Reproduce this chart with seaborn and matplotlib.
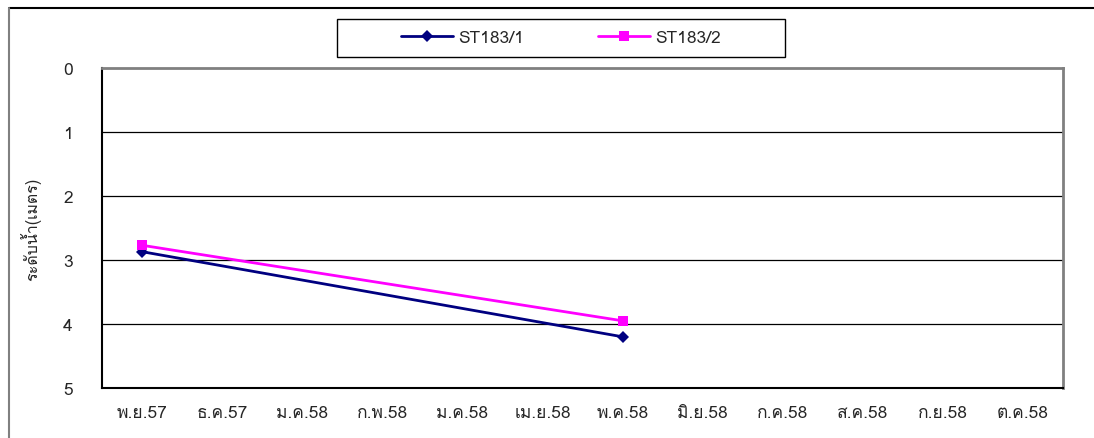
import matplotlib
matplotlib.use("Agg")
import matplotlib.pyplot as plt
import matplotlib.font_manager as fm
from matplotlib.ft2font import FT2Font
from matplotlib.lines import Line2D
from matplotlib.patches import Rectangle
from matplotlib.ticker import FixedLocator, NullFormatter
import pandas as pd
import seaborn as sns

# ---- data ----
months = ["พ.ย.57", "ธ.ค.57", "ม.ค.58", "ก.พ.58", "ม.ค.58", "เม.ย.58",
          "พ.ค.58", "มิ.ย.58", "ก.ค.58", "ส.ค.58", "ก.ย.58", "ต.ค.58"]
obs_idx = [0, 6]  # months with readings (พ.ย.57, พ.ค.58)
st183_1 = [2.87, 4.20]
st183_2 = [2.77, 3.95]
series_names = ["ST183/1", "ST183/2"]
y_label = "ระดับน้ำ(เมตร)"

# ---- find a font that can draw Thai ----
def thai_font():
    best = None
    for f in fm.fontManager.ttflist:
        try:
            ft = FT2Font(f.fname)
            if ft.get_char_index(ord("ร")) and ft.get_char_index(ord("5")):
                if "Thai" in f.name or "Loma" in f.name or "Tahoma" in f.name:
                    return f.name
                if best is None:
                    best = f.name
        except Exception:
            pass
    return best

sns.set_style("white")
tf = thai_font()
plt.rcParams["font.family"] = ([tf] if tf else []) + ["DejaVu Sans"]

df = pd.DataFrame({
    "x": obs_idx * 2,
    "level": st183_1 + st183_2,
    "well": [series_names[0]] * 2 + [series_names[1]] * 2,
})

colors = ["#000080", "#FF00FF"]
marks = ["D", "s"]
msizes = [6.5, 7.5]

fig = plt.figure(figsize=(10.94, 4.39), dpi=100)
ax = fig.add_axes([102 / 1094, 50 / 439, 961 / 1094, 320 / 439])

sns.lineplot(data=df, x="x", y="level", hue="well", style="well",
             palette=colors, markers=marks, dashes=False,
             markersize=7, linewidth=2, markeredgewidth=0, ax=ax, legend=False)
for ln, ms in zip(ax.lines, msizes):
    ln.set_markersize(ms)

ax.set_xlim(-0.5, len(months) - 0.5)
ax.set_ylim(5, 0)
ax.set_yticks(range(0, 6))
ax.set_yticklabels([str(i) for i in range(0, 6)], fontsize=12.5)
ax.set_xticks(range(len(months)))
ax.set_xticklabels(months, fontsize=12.5)
ax.xaxis.set_minor_locator(FixedLocator([i - 0.5 for i in range(len(months) + 1)]))
ax.xaxis.set_minor_formatter(NullFormatter())
ax.tick_params(axis="x", which="major", length=0, pad=12)
ax.tick_params(axis="x", which="minor", length=7, width=1.2, color="black", direction="out")
ax.tick_params(axis="y", length=7, width=1.2, color="black", direction="out", pad=14)
ax.set_xlabel("")
ax.set_ylabel(y_label, fontsize=11.5, labelpad=16)

for y in range(1, 5):
    ax.axhline(y, color="black", linewidth=0.9, zorder=0)

for s in ["left", "bottom"]:
    ax.spines[s].set_color("black")
    ax.spines[s].set_linewidth(1.5)
for s in ["top", "right"]:
    ax.spines[s].set_color("#808080")
    ax.spines[s].set_linewidth(2)

handles = [Line2D([], [], color=c, marker=m, markersize=ms, linewidth=2,
                  markeredgewidth=0) for c, m, ms in zip(colors, marks, msizes)]
leg = fig.legend(handles, series_names, loc="center",
                 bbox_to_anchor=(561 / 1094, 1 - 39 / 439),
                 ncol=2, frameon=False, fontsize=12.5,
                 handlelength=3.0, handletextpad=0.3, columnspacing=4.3)

# legend box
fig.patches.append(Rectangle((337 / 1094, 1 - 58 / 439), 448 / 1094, 38 / 439,
                             transform=fig.transFigure, fill=False,
                             edgecolor="black", linewidth=1))

# outer chart frame: black top edge, gray left edge
fig.add_artist(Line2D([9 / 1094, 1], [1 - 9 / 439] * 2, transform=fig.transFigure,
                      color="black", linewidth=1.5))
fig.add_artist(Line2D([9 / 1094] * 2, [0, 1 - 9 / 439], transform=fig.transFigure,
                      color="#808080", linewidth=1.5))

fig.savefig("out.png", dpi=100)
